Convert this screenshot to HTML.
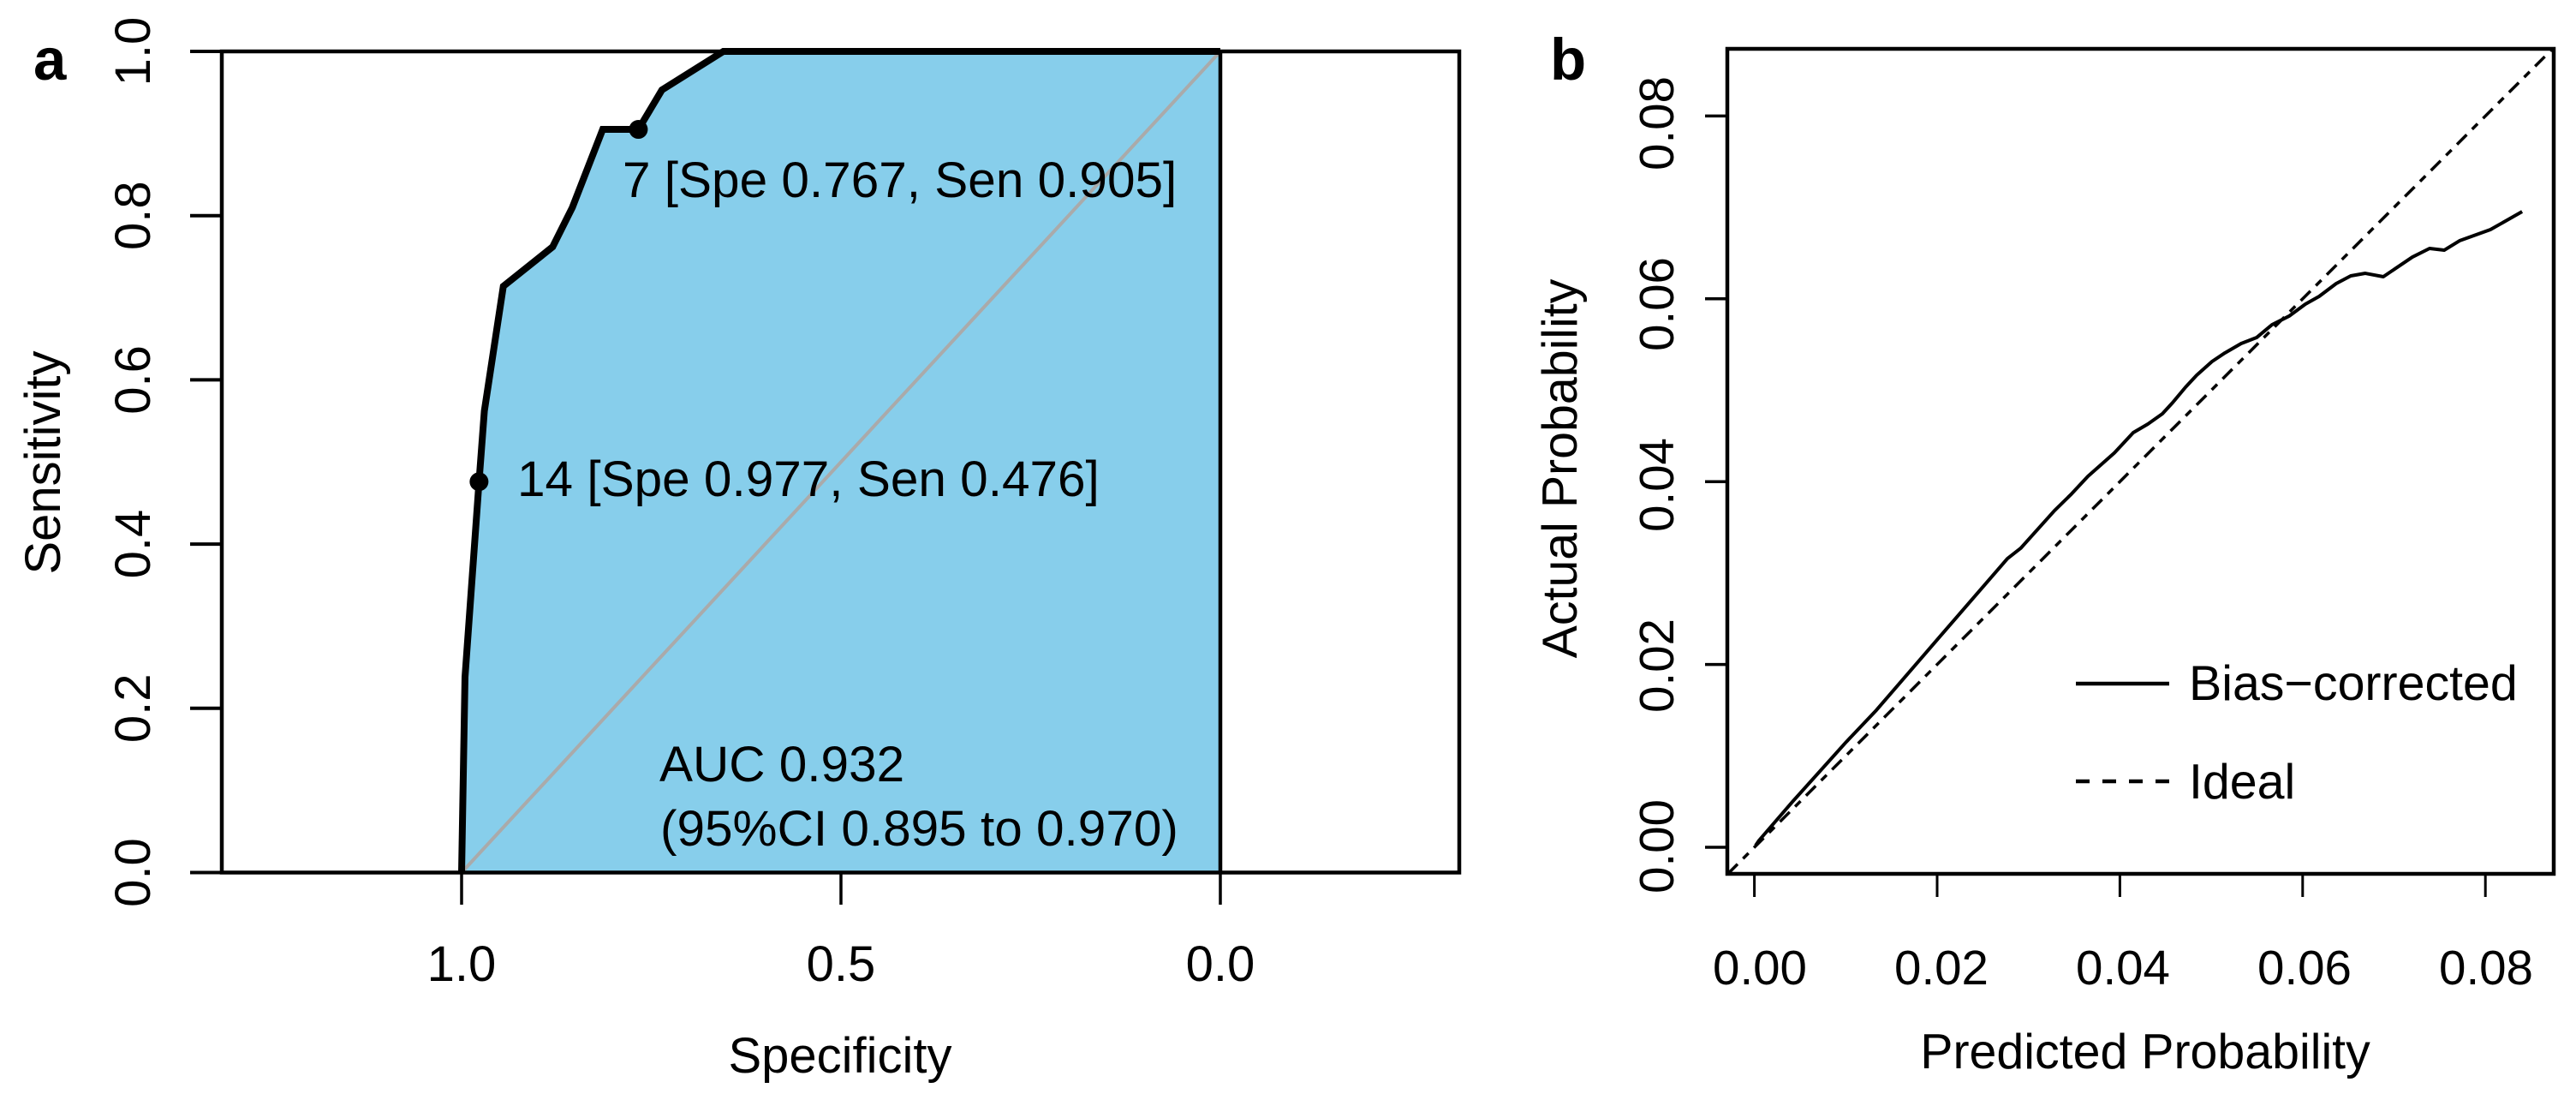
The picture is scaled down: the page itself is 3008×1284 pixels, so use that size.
<!DOCTYPE html>
<html lang="en">
<head>
<meta charset="utf-8">
<title>ROC curve and calibration plot</title>
<style>
html,body{margin:0;padding:0;background:#fff;}
body{width:3008px;height:1284px;overflow:hidden;}
svg{display:block;}
text{font-family:"Liberation Sans",Arial,sans-serif;fill:#000;}
.t58{font-size:58px;}
.note{font-size:58.5px;}
.t56{font-size:56.5px;}
.title{font-size:57.3px;}
.bold{font-size:69px;font-weight:bold;}
</style>
</head>
<body>
<svg id="figure" xmlns="http://www.w3.org/2000/svg" width="3008" height="1284" viewBox="0 0 3008 1284">
  <rect x="0" y="0" width="3008" height="1284" fill="#fff"/>

  <g id="panelA">
    <polygon id="rocFill" fill="#87ceeb" stroke="none"/>
    <line id="rocDiagonal" stroke="#aaaaaa" stroke-width="4"/>
    <rect x="259" y="60" width="1445" height="958.5" fill="none" stroke="#000" stroke-width="4.5"/>
    <line id="rocRightEdge" stroke="#000" stroke-width="4.5"/>
    <polyline id="rocCurve" fill="none" stroke="#000" stroke-width="8" stroke-linejoin="miter"/>
    <g id="rocPoints"></g>
    <g id="rocYTicks"></g>
    <g id="rocXTicks"></g>
    <text class="bold" x="39" y="93">a</text>
    <text class="note" x="727" y="230">7 [Spe 0.767, Sen 0.905]</text>
    <text class="note" x="604" y="579">14 [Spe 0.977, Sen 0.476]</text>
    <text class="note" x="770" y="912">AUC 0.932</text>
    <text class="note" x="771" y="987">(95%CI 0.895 to 0.970)</text>
    <text class="t58" x="981" y="1252" text-anchor="middle">Specificity</text>
    <text class="t58" transform="translate(70,540) rotate(-90)" text-anchor="middle">Sensitivity</text>
  </g>

  <g id="panelB">
    <rect x="2017" y="57" width="965" height="963" fill="none" stroke="#000" stroke-width="4.5"/>
    <line id="idealLine" stroke="#000" stroke-width="3.5" stroke-dasharray="16 9 9 9"/>
    <polyline id="biasLine" fill="none" stroke="#000" stroke-width="4" stroke-linejoin="round"/>
    <g id="calYTicks"></g>
    <g id="calXTicks"></g>
    <text class="bold" x="1810" y="93">b</text>
    <text class="title" x="2505" y="1247" text-anchor="middle">Predicted Probability</text>
    <text class="title" transform="translate(1841,547) rotate(-90)" text-anchor="middle">Actual Probability</text>
    <g>
      <line x1="2424" y1="798" x2="2533" y2="798" stroke="#000" stroke-width="4.5"/>
      <text class="title" x="2556" y="817">Bias&#8722;corrected</text>
      <line x1="2424" y1="912" x2="2533" y2="912" stroke="#000" stroke-width="4.5" stroke-dasharray="16 15"/>
      <text class="title" x="2556" y="932">Ideal</text>
    </g>
  </g>
</svg>

<script>
// ROC panel data
var rocSpecificity = [1.000, 0.9955, 0.977, 0.970, 0.945, 0.880, 0.854, 0.814, 0.767, 0.736, 0.655, 0.000];
var rocSensitivity = [0.000, 0.238, 0.476, 0.562, 0.714, 0.762, 0.810, 0.905, 0.905, 0.953, 1.000, 1.000];
var cutoffSpecificity = [0.977, 0.767];
var cutoffSensitivity = [0.476, 0.905];
var rocYTickValues = [0, 0.2, 0.4, 0.6, 0.8, 1.0];
var rocYTickLabels = ["0.0", "0.2", "0.4", "0.6", "0.8", "1.0"];
var rocXTickValues = [1.0, 0.5, 0];
var rocXTickLabels = ["1.0", "0.5", "0.0"];

// Calibration panel data
var predictedProbability = [0.00013, 0.00051, 0.00416, 0.01006, 0.01335, 0.02033, 0.02769, 0.02914, 0.03284, 0.03462, 0.03650, 0.03940, 0.04146, 0.04306, 0.04465, 0.04577, 0.04718, 0.04840, 0.05008, 0.05149, 0.05327, 0.05496, 0.05665, 0.05852, 0.06030, 0.06180, 0.06367, 0.06527, 0.06686, 0.06883, 0.07201, 0.07389, 0.07549, 0.07717, 0.08055, 0.08402];
var actualProbability = [0.00019, 0.00075, 0.00497, 0.01153, 0.01500, 0.02308, 0.03158, 0.03271, 0.03683, 0.03857, 0.04058, 0.04315, 0.04536, 0.04630, 0.04742, 0.04864, 0.05033, 0.05164, 0.05314, 0.05408, 0.05511, 0.05576, 0.05717, 0.05811, 0.05942, 0.06026, 0.06167, 0.06251, 0.06279, 0.06242, 0.06457, 0.06551, 0.06532, 0.06635, 0.06757, 0.06954];
var idealRange = [-0.0029, 0.0874];
var calTickValues = [0, 0.02, 0.04, 0.06, 0.08];
var calTickLabels = ["0.00", "0.02", "0.04", "0.06", "0.08"];

var NS = "http://www.w3.org/2000/svg";

function rocX(v) { return 1425 - 886 * v; }
function rocY(v) { return 1018.5 - 958.5 * v; }
function calX(v) { return 2048.6 + 10670 * v; }
function calY(v) { return 989 - 10670 * v; }
function calYLabel(v) { return 988 - 10550 * v; }
function calXLabel(v) { return 2055 + 10600 * v; }

function make(tag, parentId) {
  var el = document.createElementNS(NS, tag);
  document.getElementById(parentId).appendChild(el);
  return el;
}

// ROC curve, fill, diagonal
var rocPts = rocSpecificity.map(function (s, i) { return rocX(s) + "," + rocY(rocSensitivity[i]); });
document.getElementById("rocCurve").setAttribute("points", rocPts.join(" "));
document.getElementById("rocFill").setAttribute("points", rocPts.join(" ") + " " + rocX(0) + "," + rocY(0));
var rocDiag = document.getElementById("rocDiagonal");
rocDiag.setAttribute("x1", rocX(1));
rocDiag.setAttribute("y1", rocY(0));
rocDiag.setAttribute("x2", rocX(0));
rocDiag.setAttribute("y2", rocY(1));
var rocEdge = document.getElementById("rocRightEdge");
rocEdge.setAttribute("x1", rocX(0));
rocEdge.setAttribute("y1", rocY(1));
rocEdge.setAttribute("x2", rocX(0));
rocEdge.setAttribute("y2", rocY(0));

// Cutoff points
cutoffSpecificity.forEach(function (s, i) {
  var c = make("circle", "rocPoints");
  
  
  c.setAttribute("cx", rocX(s));
  c.setAttribute("cy", rocY(cutoffSensitivity[i]));
  c.setAttribute("r", 11);
  c.setAttribute("fill", "#000");
});

// ROC y axis
rocYTickValues.forEach(function (v, i) {
  var t = make("line", "rocYTicks");
  
  
  t.setAttribute("x1", 222);
  t.setAttribute("x2", 259);
  t.setAttribute("y1", rocY(v));
  t.setAttribute("y2", rocY(v));
  t.setAttribute("stroke", "#000");
  t.setAttribute("stroke-width", 4);
  var l = make("text", "rocYTicks");
  
  
  l.setAttribute("class", "t58");
  l.setAttribute("text-anchor", "middle");
  l.setAttribute("transform", "translate(175," + rocY(v) + ") rotate(-90)");
  l.textContent = rocYTickLabels[i];
});

// ROC x axis
rocXTickValues.forEach(function (v, i) {
  var t = make("line", "rocXTicks");
  
  
  t.setAttribute("x1", rocX(v));
  t.setAttribute("x2", rocX(v));
  t.setAttribute("y1", rocY(0));
  t.setAttribute("y2", 1056);
  t.setAttribute("stroke", "#000");
  t.setAttribute("stroke-width", 3.5);
  var l = make("text", "rocXTicks");
  
  
  l.setAttribute("class", "t58");
  l.setAttribute("text-anchor", "middle");
  l.setAttribute("x", rocX(v));
  l.setAttribute("y", 1145);
  l.textContent = rocXTickLabels[i];
});

// Calibration lines
var ideal = document.getElementById("idealLine");
ideal.setAttribute("x1", calX(idealRange[0]));
ideal.setAttribute("y1", calY(idealRange[0]));
ideal.setAttribute("x2", calX(idealRange[1]));
ideal.setAttribute("y2", calY(idealRange[1]));
document.getElementById("biasLine").setAttribute("points", predictedProbability.map(function (p, i) {
  return calX(p) + "," + calY(actualProbability[i]);
}).join(" "));

// Calibration axes
calTickValues.forEach(function (v, i) {
  var t = make("line", "calYTicks");
  
  
  t.setAttribute("x1", 1991);
  t.setAttribute("x2", 2017);
  t.setAttribute("y1", calY(v));
  t.setAttribute("y2", calY(v));
  t.setAttribute("stroke", "#000");
  t.setAttribute("stroke-width", 3.5);
  var l = make("text", "calYTicks");
  
  
  l.setAttribute("class", "t56");
  l.setAttribute("text-anchor", "middle");
  l.setAttribute("transform", "translate(1954," + calYLabel(v) + ") rotate(-90)");
  l.textContent = calTickLabels[i];

  var xt = make("line", "calXTicks");
  
  
  xt.setAttribute("x1", calX(v));
  xt.setAttribute("x2", calX(v));
  xt.setAttribute("y1", 1020);
  xt.setAttribute("y2", 1047);
  xt.setAttribute("stroke", "#000");
  xt.setAttribute("stroke-width", 3);
  var xl = make("text", "calXTicks");
  
  
  xl.setAttribute("class", "t56");
  xl.setAttribute("text-anchor", "middle");
  xl.setAttribute("x", calXLabel(v));
  xl.setAttribute("y", 1149);
  xl.textContent = calTickLabels[i];
});
</script>
</body>
</html>
